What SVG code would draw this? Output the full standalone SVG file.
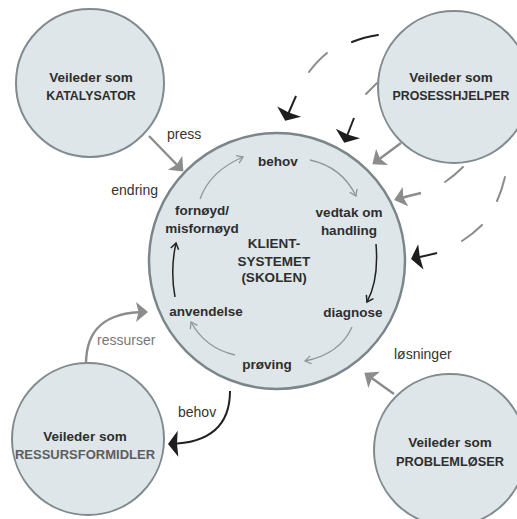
<svg xmlns="http://www.w3.org/2000/svg" width="517" height="519" viewBox="0 0 517 519">
  <style>
    .disc { fill: #dee6e9; stroke: #808a8f; stroke-width: 2; }
    .hub { fill: #dee6e9; stroke: #7b868b; stroke-width: 2.5; }
    .title { font-family: "Liberation Sans", Arial, sans-serif; font-weight: bold; font-size: 13.5px; fill: #2e2e2e; text-anchor: middle; }
    .caps { font-size: 12.4px; }
    .step { font-family: "Liberation Sans", Arial, sans-serif; font-weight: bold; font-size: 13.5px; fill: #2e2e2e; text-anchor: middle; }
    .flow { font-family: "Liberation Sans", Arial, sans-serif; font-size: 14px; fill: #333; }
    .grey-line { fill: none; stroke: #8c8c8c; stroke-width: 2.4; }
    .dark-line { fill: none; stroke: #222; stroke-width: 2; }
    .grey-dash { fill: none; stroke: #8c8c8c; stroke-width: 2; stroke-linecap: round; }
    .dark-dash { fill: none; stroke: #222; stroke-width: 2; stroke-linecap: round; }
    .cycle-grey { fill: none; stroke: #8f979a; stroke-width: 1.3; }
    .cycle-dark { fill: none; stroke: #222; stroke-width: 1.5; }
  </style>
  <defs>
    <marker id="head-grey" markerUnits="userSpaceOnUse" viewBox="-14 -12 16 24" refX="-2" refY="0" markerWidth="16" markerHeight="24" orient="auto">
      <path d="M0,0 L-12,-10 L-9.5,0 L-12,10 Z" fill="#8c8c8c"/>
    </marker>
    <marker id="head-dark" markerUnits="userSpaceOnUse" viewBox="-13 -15 15 30" refX="-2" refY="0" markerWidth="15" markerHeight="30" orient="auto">
      <path d="M0,0 L-10,-13 L-9,0 L-10,13 Z" fill="#1e1e1e"/>
    </marker>
    <marker id="tip-grey" markerUnits="userSpaceOnUse" viewBox="-8 -5 10 10" refX="0" refY="0" markerWidth="10" markerHeight="10" orient="auto">
      <path d="M-6,-4 L0,0 L-6,4" fill="none" stroke="#8f979a" stroke-width="1.3"/>
    </marker>
    <marker id="tip-dark" markerUnits="userSpaceOnUse" viewBox="-8 -5 10 10" refX="0" refY="0" markerWidth="10" markerHeight="10" orient="auto">
      <path d="M-6,-4 L0,0 L-6,4" fill="none" stroke="#222" stroke-width="1.5"/>
    </marker>
  </defs>

  <rect width="517" height="519" fill="#ffffff"/>

  <!-- client system (hub) -->
  <g id="klientsystemet">
    <circle class="hub" cx="277" cy="261" r="128"/>
    <text class="step" x="274" y="248">KLIENT-</text>
    <text class="step" x="274" y="266">SYSTEMET</text>
    <text class="step" x="274" y="282">(SKOLEN)</text>
  </g>

  <!-- phases of the cycle inside the hub -->
  <g id="fase-behov"><text class="step" x="278" y="166">behov</text></g>
  <g id="fase-vedtak"><text class="step" x="349" y="217">vedtak om</text><text class="step" x="349" y="235">handling</text></g>
  <g id="fase-diagnose"><text class="step" x="353" y="317">diagnose</text></g>
  <g id="fase-proving"><text class="step" x="267" y="369">prøving</text></g>
  <g id="fase-anvendelse"><text class="step" x="206" y="316">anvendelse</text></g>
  <g id="fase-fornoyd"><text class="step" x="202" y="215">fornøyd/</text><text class="step" x="202" y="233">misfornøyd</text></g>

  <!-- consultant roles -->
  <g id="katalysator">
    <circle class="disc" cx="90" cy="83" r="74"/>
    <text class="title" x="91" y="82">Veileder som</text>
    <text class="title caps" x="91" y="100">KATALYSATOR</text>
  </g>
  <g id="prosesshjelper">
    <circle class="disc" cx="454" cy="87" r="76"/>
    <text class="title" x="451" y="82">Veileder som</text>
    <text class="title caps" x="451" y="100">PROSESSHJELPER</text>
  </g>
  <g id="ressursformidler">
    <circle class="disc" cx="88" cy="439" r="76"/>
    <text class="title" x="85" y="441">Veileder som</text>
    <text class="title" x="85" y="459" style="font-size:13px;fill:#5e5e5e">RESSURSFORMIDLER</text>
  </g>
  <g id="problemloser">
    <circle class="disc" cx="450" cy="450" r="76"/>
    <text class="title" x="450" y="447">Veileder som</text>
    <text class="title" x="450" y="466" style="font-size:12.8px">PROBLEMLØSER</text>
  </g>

  <!-- connectors -->
  <g id="connectors">
    <!-- inner cycle -->
    <path class="cycle-grey" d="M200,199 Q210,171 243,157" marker-end="url(#tip-grey)"/>
    <path class="cycle-grey" d="M310,160 Q342,167 356,196" marker-end="url(#tip-grey)"/>
    <path class="cycle-dark" d="M376,244 Q379,280 367,302" marker-end="url(#tip-dark)"/>
    <path class="cycle-grey" d="M352,327 Q340,354 305,361" marker-end="url(#tip-grey)"/>
    <path class="cycle-grey" d="M235,355 Q205,348 191,322" marker-end="url(#tip-grey)"/>
    <path class="cycle-dark" d="M175,297 Q170,270 176,243" marker-end="url(#tip-dark)"/>

    <!-- katalysator: press / endring -->
    <path class="grey-line" d="M149,136 L182,170" marker-end="url(#head-grey)"/>
    <!-- prosesshjelper -->
    <path class="grey-line" d="M401,143 L374,163" marker-end="url(#head-grey)"/>
    <!-- problemløser: løsninger -->
    <path class="grey-line" d="M394,394 L366,374" marker-end="url(#head-grey)"/>
    <!-- ressursformidler: ressurser -->
    <path class="grey-line" d="M86,364 C86,330 104,312 146,312" marker-end="url(#head-grey)"/>
    <!-- behov to ressursformidler -->
    <path class="dark-line" d="M230,391 C230,425 210,443 170,444" marker-end="url(#head-dark)"/>

    <!-- dashed process loops from the prosesshjelper -->
    <path class="dark-dash" d="M352,42 Q364,37 378,35"/>
    <path class="grey-dash" d="M309,72 Q317,61 327,53"/>
    <path class="dark-line" d="M296,96 L286,119" marker-end="url(#head-dark)"/>

    <path class="grey-dash" d="M366,94 L377,83"/>
    <path class="dark-line" d="M354,118 L345,141" marker-end="url(#head-dark)"/>

    <path class="grey-dash" d="M445,182 Q454,176 463,167"/>
    <path class="grey-line" d="M421,193 Q408,196 396,199.5" marker-end="url(#head-grey)"/>

    <path class="grey-dash" d="M505,177 Q502,190 497,201"/>
    <path class="grey-dash" d="M482,225 Q473,234 462,241"/>
    <path class="dark-line" d="M437,253 Q425,256 413,258.5" marker-end="url(#head-dark)"/>
  </g>

  <!-- flow labels -->
  <g id="labels">
    <text class="flow" x="167" y="139">press</text>
    <text class="flow" x="158" y="195" text-anchor="end">endring</text>
    <text class="flow" x="394" y="359">løsninger</text>
    <text class="flow" x="97" y="345" style="fill:#777">ressurser</text>
    <text class="flow" x="178" y="417">behov</text>
  </g>
</svg>
